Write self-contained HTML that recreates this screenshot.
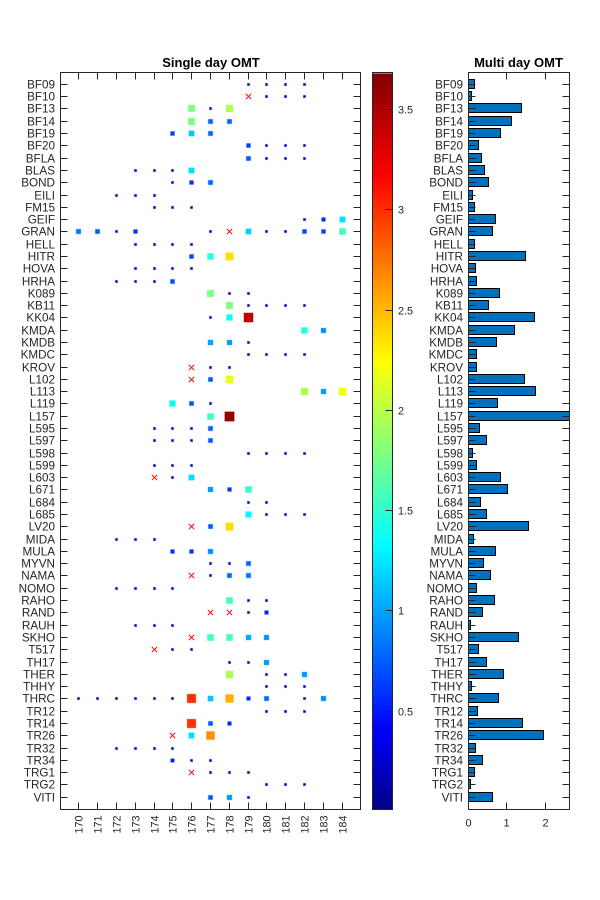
<!DOCTYPE html>
<html lang="en">
<head>
<meta charset="utf-8">
<title>Single day and multi day OMT</title>
<style>
html,body{margin:0;padding:0;background:#fff;width:600px;height:900px;overflow:hidden}
svg{display:block}
text{font-family:"Liberation Sans",Arial,sans-serif;fill:#262626}
</style>
</head>
<body>
<svg id="figure" xmlns="http://www.w3.org/2000/svg" width="600" height="900" viewBox="0 0 600 900">
  <defs>
    <linearGradient id="jetGradient" x1="0" y1="1" x2="0" y2="0">
      <stop offset="0" stop-color="#000087"/>
      <stop offset="0.11" stop-color="#0000ff"/>
      <stop offset="0.36" stop-color="#00ffff"/>
      <stop offset="0.61" stop-color="#ffff00"/>
      <stop offset="0.86" stop-color="#ff0000"/>
      <stop offset="1" stop-color="#800000"/>
    </linearGradient>
    <clipPath id="barClip"><rect x="468" y="72" width="102" height="738"/></clipPath>
  </defs>
  <rect x="0" y="0" width="600" height="900" fill="#fff"/>
  <text x="211" y="67" text-anchor="middle" font-size="13" font-weight="bold" style="fill:#000">Single day OMT</text>
  <text x="518.5" y="67" text-anchor="middle" font-size="13" font-weight="bold" style="fill:#000">Multi day OMT</text>
  <g id="singleAxes"></g>
  <g id="colorbar"></g>
  <g id="multiAxes"></g>
</svg>
<script>
const stations = ["BF09","BF10","BF13","BF14","BF19","BF20","BFLA","BLAS","BOND","EILI","FM15","GEIF","GRAN","HELL","HITR","HOVA","HRHA","K089","KB11","KK04","KMDA","KMDB","KMDC","KROV","L102","L113","L119","L157","L595","L597","L598","L599","L603","L671","L684","L685","LV20","MIDA","MULA","MYVN","NAMA","NOMO","RAHO","RAND","RAUH","SKHO","T517","TH17","THER","THHY","THRC","TR12","TR14","TR26","TR32","TR34","TRG1","TRG2","VITI"];
const dayTicks = [170,171,172,173,174,175,176,177,178,179,180,181,182,183,184];
const colorbarTicks = [0.5,1,1.5,2,2.5,3,3.5];
const multiDayTicks = [0,1,2];
const colorMin = 0.01;
const colorMax = 3.68;

// Multi day OMT, one value per station
const multiDayValues = [0.16,0.09,1.38,1.13,0.83,0.26,0.34,0.42,0.52,0.11,0.16,0.70,0.62,0.16,1.48,0.18,0.21,0.80,0.52,1.71,1.19,0.73,0.21,0.21,1.45,1.74,0.75,2.70,0.29,0.47,0.10,0.21,0.83,1.01,0.31,0.47,1.56,0.13,0.70,0.39,0.57,0.21,0.68,0.36,0.05,1.30,0.26,0.47,0.91,0.08,0.78,0.23,1.40,1.95,0.18,0.36,0.16,0.05,0.62];

// Single day OMT: days observed per station and the matching values (0 = red cross)
const singleDayDays = [
[179,180,181,182],[179,180,181,182],[176,177,178],[176,177,178],[175,176,177],[179,180,181,182],[179,180,181,182],[173,174,175,176],[175,176,177],[172,173,174],
[174,175,176],[182,183,184],[170,171,172,173,177,178,179,180,181,182,183,184],[173,174,175,176],[176,177,178],[173,174,175,176],[172,173,174,175],[177,178,179],[178,179,180,181,182],[177,178,179],
[182,183],[177,178,179],[179,180,181,182],[176,177,178],[176,177,178],[182,183,184],[175,176,177],[177,178],[174,175,176,177],[174,175,176,177],
[179,180,181,182],[174,175,176],[174,175,176],[177,178,179],[179,180],[179,180,181,182],[176,177,178],[172,173,174],[175,176,177],[177,178,179],
[176,177,178,179],[172,173,174,175],[178,179,180],[177,178,179,180],[173,174,175],[176,177,178,179,180],[174,175,176],[178,179,180],[178,180,181,182],[180,181,182],
[170,171,172,173,174,175,176,177,178,179,180,182,183],[180,181,182],[176,177,178],[175,176,177],[172,173,174,175],[175,176,177],[176,177,178,179],[180,181,182],[177,178,179]
];
const singleDayValues = [
[0.2,0.2,0.2,0.2],[0,0.2,0.2,0.2],[1.83,0.2,2.02],[1.83,0.8,0.8],[0.65,1.15,0.8],[0.65,0.2,0.2,0.2],[0.75,0.2,0.2,0.2],[0.2,0.2,0.2,1.25],[0.2,0.6,0.8],[0.2,0.2,0.2],
[0.2,0.2,0.2],[0.2,0.55,1.25],[0.85,0.75,0.2,0.6,0.2,0,1.2,0.2,0.2,0.7,0.65,1.62],[0.2,0.2,0.2,0.2],[0.7,1.5,2.44],[0.2,0.2,0.2,0.2],[0.2,0.2,0.2,0.7],[1.85,0.2,0.2],[1.85,0.2,0.2,0.2,0.2],[0.2,1.4,3.5],
[1.5,0.95],[1.05,1.0,0.2],[0.2,0.2,0.2,0.2],[0,0.2,0.2],[0,0.75,2.24],[2.02,1.0,2.27],[1.4,0.75,0.2],[1.62,3.68],[0.2,0.2,0.2,0.8],[0.2,0.2,0.2,0.75],
[0.2,0.2,0.2,0.2],[0.2,0.2,0.2],[0,0.2,1.25],[1.0,0.6,1.55],[0.2,0.2],[1.35,0.2,0.2,0.2],[0,0.75,2.44],[0.2,0.2,0.2],[0.6,0.6,0.95],[0.2,0.2,0.8],
[0,0.2,0.8,0.85],[0.2,0.2,0.2,0.2],[1.62,0.2,0.2],[0,0,0.2,0.55],[0.2,0.2,0.2],[0,1.6,1.65,1.05,0.95],[0,0.2,0.2],[0.2,0.2,1.0],[2.02,0.2,0.2,1.0],[0.2,0.2,0.2],
[0.2,0.2,0.2,0.2,0.2,0.2,3.1,1.15,2.62,0.55,0.8,0.2,0.95],[0.2,0.2,0.2],[3.1,0.75,0.55],[0,1.25,2.74],[0.2,0.2,0.2,0.2],[0.5,0.2,0.2],[0,0.2,0.2,0.2],[0.2,0.2,0.2],[0.75,1.0,0.2]
];

const SVG_NS = "http://www.w3.org/2000/svg";
const DARK = "#262626";

function make(tag, parent, props) {
  const el = document.createElementNS(SVG_NS, tag);
  for (const key in props) el.setAttribute(key, props[key]);
  parent.appendChild(el);
  return el;
}
function snap(v) { return Math.floor(v) + 0.5; }

// Axis functions
function dayX(day) { return 78.9 + (day - 170) * 18.8; }
function stationY(index) { return 72.1 + (index + 1) * 12.29; }
function multiX(v) { return 468.2 + v * 38.6; }
function colorY(v) { return 109.5 + (3.5 - v) * 200.5; }

function jetChannel(t) { return Math.max(0, Math.min(1, 1.5 - Math.abs(4 * t - 1))); }
function jet(value) {
  const t = Math.max(0, Math.min(1, (value - colorMin) / (colorMax - colorMin)));
  const q = t * 0.96 + 0.02;
  const r = Math.round(255 * jetChannel(q - 0.5));
  const g = Math.round(255 * jetChannel(q - 0.25));
  const b = Math.round(255 * jetChannel(q));
  return "rgb(" + r + "," + g + "," + b + ")";
}

const singleAxes = document.getElementById("singleAxes");
const colorbarGroup = document.getElementById("colorbar");
const multiAxes = document.getElementById("multiAxes");

function drawBox(parent, x0, x1, y0, y1, name) {
  const box = make("rect", parent, {x:x0, y:y0, width:x1 - x0, height:y1 - y0, fill:"none", stroke:DARK, "stroke-width":1, "shape-rendering":"crispEdges"});
  
  
  return box;
}
function drawTick(parent, x1, y1, x2, y2, name) {
  const tick = make("line", parent, {x1:x1, y1:y1, x2:x2, y2:y2, stroke:DARK, "stroke-width":1, "shape-rendering":"crispEdges"});
  
  
  return tick;
}

// ---- Single day panel ----
dayTicks.forEach(function (day) {
  const x = snap(dayX(day));
  drawTick(singleAxes, x, 72.5, x, 79.5, "x-tick-top");
  drawTick(singleAxes, x, 809.5, x, 802.5, "x-tick-bottom");
  const label = make("text", singleAxes, {transform:"translate(" + (x + 4) + ",815.5) rotate(-90)", "text-anchor":"end", "font-size":"10.8"});
  
  
  label.textContent = day;
});

stations.forEach(function (station, i) {
  const y = snap(stationY(i));
  drawTick(singleAxes, 60.5, y, 67.5, y, "y-tick-left");
  drawTick(singleAxes, 360.5, y, 353.5, y, "y-tick-right");
  const label = make("text", singleAxes, {x:55, y:y + 4, "text-anchor":"end", "font-size":"11.7"});
  
  
  label.textContent = station;

  singleDayDays[i].forEach(function (day, j) {
    const value = singleDayValues[i][j];
    const cx = snap(dayX(day));
    if (value === 0) {
      const cross = make("path", singleAxes, {d:"M" + (cx - 2.7) + " " + (y - 2.7) + "L" + (cx + 2.7) + " " + (y + 2.7) + "M" + (cx - 2.7) + " " + (y + 2.7) + "L" + (cx + 2.7) + " " + (y - 2.7), stroke:"#ff0000", "stroke-width":1, fill:"none"});
      
      
    } else {
      const side = 4.9 * Math.sqrt(value);
      const color = jet(value);
      const marker = make("rect", singleAxes, {x:cx - side / 2, y:y - side / 2, width:side, height:side, fill:color, stroke:color, "stroke-opacity":0.35, "stroke-width":1});
      
      
    }
  });
});
drawBox(singleAxes, 60.5, 360.5, 72.5, 809.5, "single-day-axes-box");

// ---- Colorbar ----
const colorRamp = make("rect", colorbarGroup, {x:372, y:colorY(colorMax), width:20.5, height:colorY(colorMin) - colorY(colorMax), fill:"url(#jetGradient)"});


drawBox(colorbarGroup, 372.5, 392.5, 72.5, 809.5, "colorbar-box");
colorbarTicks.forEach(function (v) {
  const y = snap(colorY(v));
  drawTick(colorbarGroup, 392.5, y, 385.5, y, "colorbar-tick");
  const label = make("text", colorbarGroup, {x:398, y:y + 4, "font-size":"10.8"});
  
  
  label.textContent = v;
});

// ---- Multi day panel ----
const barLayer = make("g", multiAxes, {"clip-path":"url(#barClip)"});


multiDayValues.forEach(function (value, i) {
  const y = snap(stationY(i));
  const bar = make("rect", barLayer, {x:468.5, y:y - 5, width:Math.max(1, Math.round(multiX(value) - 468.5)), height:9, fill:"#0072bd", stroke:"#000", "stroke-width":1, "shape-rendering":"crispEdges"});
  
  
});
stations.forEach(function (station, i) {
  const y = snap(stationY(i));
  drawTick(multiAxes, 468.5, y, 475.5, y, "multi-y-tick-left");
  drawTick(multiAxes, 569.5, y, 562.5, y, "multi-y-tick-right");
  const label = make("text", multiAxes, {x:463, y:y + 4, "text-anchor":"end", "font-size":"11.7"});
  
  
  label.textContent = station;
});
multiDayTicks.forEach(function (v) {
  const x = snap(multiX(v));
  drawTick(multiAxes, x, 72.5, x, 79.5, "multi-x-tick-top");
  drawTick(multiAxes, x, 809.5, x, 802.5, "multi-x-tick-bottom");
  const label = make("text", multiAxes, {x:x, y:826.5, "text-anchor":"middle", "font-size":"11"});
  
  
  label.textContent = v;
});
drawBox(multiAxes, 468.5, 569.5, 72.5, 809.5, "multi-day-axes-box");
</script>
</body>
</html>
